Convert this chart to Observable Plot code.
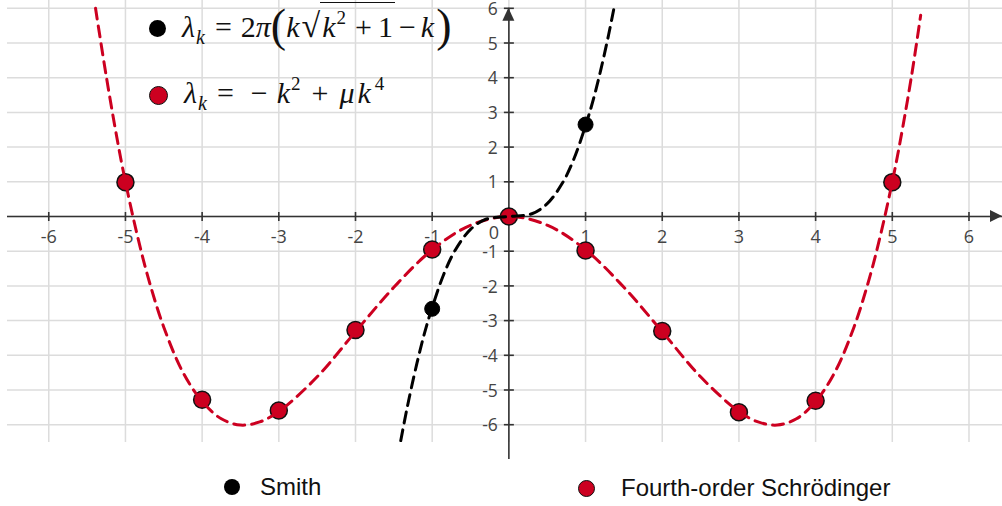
<!DOCTYPE html>
<html>
<head>
<meta charset="utf-8">
<script src="https://cdn.jsdelivr.net/npm/d3@7"></script>
<script src="https://cdn.jsdelivr.net/npm/@observablehq/plot@0.6"></script>
<style>
  body { margin: 0; background: #fff; }
  #wrap { position: relative; width: 1002px; height: 506px; overflow: hidden; background: #fff; }
  #chart { position: absolute; left: 0; top: 0; }
  .f { position: absolute; font-family: "Liberation Serif", "DejaVu Serif", serif; font-size: 30px; color: #111; white-space: nowrap; line-height: 34px; }
  .f i { font-style: italic; }
  .f sub { font-size: 20px; line-height: 0; vertical-align: -7px; margin-left: 1px; }
  .f sup { font-size: 19px; line-height: 0; vertical-align: 13px; margin-left: 1px; }
  .sp { display: inline-block; }
  .bp { font-size: 46px; line-height: 0; vertical-align: -4px; font-weight: 300; }
  .rad { font-size: 34px; line-height: 0; }
  .ol { border-top: 1.5px solid #111; padding-top: 7px; }
  .dot { position: absolute; border-radius: 50%; box-sizing: border-box; }
  .leg { position: absolute; font-family: "Liberation Sans", Arial, sans-serif; font-size: 24px; color: #111; white-space: nowrap; line-height: 24px; }
</style>
</head>
<body>
<div id="wrap">
  <div id="chart"></div>
  <div class="dot" style="left:149px;top:20px;width:17px;height:17px;background:#000;"></div>
  <div class="f" style="left:182px;top:10px;"><i>λ</i><sub><i>k</i></sub><span class="sp" style="width:10px"></span>=<span class="sp" style="width:9px"></span>2<i>π</i><span class="bp">(</span><i>k</i><span class="sp" style="width:2px"></span><span class="rad">√</span><span class="ol"><span class="sp" style="width:2px"></span><i>k</i><sup>2</sup><span class="sp" style="width:9px"></span>+<span class="sp" style="width:6px"></span>1<span class="sp" style="width:2px"></span></span><span class="sp" style="width:4px"></span>−<span class="sp" style="width:5px"></span><i>k</i><span class="sp" style="width:2px"></span><span class="bp">)</span></div>
  <div class="dot" style="left:149px;top:86px;width:19px;height:19px;background:#cc0020;border:1.5px solid #111;"></div>
  <div class="f" style="left:184px;top:76px;"><i>λ</i><sub><i>k</i></sub><span class="sp" style="width:10px"></span>=<span class="sp" style="width:17px"></span>−<span class="sp" style="width:9px"></span><i>k</i><sup>2</sup><span class="sp" style="width:11px"></span>+<span class="sp" style="width:11px"></span><i style="letter-spacing:3px">μk</i><sup>4</sup></div>
  <div class="dot" style="left:224px;top:479px;width:16px;height:16px;background:#000;"></div>
  <div class="leg" style="left:260px;top:475px;">Smith</div>
  <div class="dot" style="left:578px;top:480px;width:17px;height:17px;background:#cc0020;border:1.5px solid #111;"></div>
  <div class="leg" style="left:621px;top:476px;">Fourth-order Schrödinger</div>
</div>
<script>
// ---- data ----
const gridValues = [-6, -5, -4, -3, -2, -1, 0, 1, 2, 3, 4, 5, 6];
const xTickValues = [-6, -5, -4, -3, -2, -1, 1, 2, 3, 4, 5, 6];
const yTickValues = [-6, -5, -4, -3, -2, -1, 1, 2, 3, 4, 5, 6];

const schrodingerK = [-5, -4, -3, -2, -1, 0, 1, 2, 3, 4, 5];
const schrodingerValues = [0.99, -5.28, -5.59, -3.27, -0.95, 0, -0.98, -3.30, -5.64, -5.31, 0.99];

const smithK = [-1, 0, 1];
const smithValues = [-2.66, 0, 2.65];

const schrodingerCurveK = [-5.39, -5.25, -5.1, -5.0, -4.85, -4.7, -4.5, -4.25, -4.0, -3.75, -3.5, -3.25, -3.0, -2.5, -2.0, -1.5, -1.0, -0.5, 0,
                           0.5, 1.0, 1.5, 2.0, 2.5, 3.0, 3.25, 3.5, 3.75, 4.0, 4.25, 4.5, 4.7, 4.85, 5.0, 5.1, 5.25, 5.37];
const schrodingerCurveValues = [6.0, 4.04, 2.13, 1.0, -0.5, -1.79, -3.19, -4.49, -5.33, -5.83, -6.01, -5.92, -5.62, -4.62, -3.32, -2.04, -0.96, -0.25, 0,
                                -0.25, -0.96, -2.04, -3.32, -4.62, -5.62, -5.92, -6.01, -5.83, -5.33, -4.49, -3.19, -1.79, -0.5, 1.0, 2.13, 4.04, 5.8];

const smithCurveK = [-1.41, -1.35, -1.3, -1.2, -1.1, -1.0, -0.85, -0.7, -0.5, -0.3, 0, 0.3, 0.5, 0.7, 0.85, 1.0, 1.1, 1.2, 1.3, 1.37];
const smithCurveValues = [-6.46, -5.77, -5.23, -4.24, -3.36, -2.62, -1.67, -0.97, -0.37, -0.08, 0, 0.08, 0.37, 0.97, 1.67, 2.62, 3.36, 4.24, 5.23, 6.0];

// ---- build tables ----
const schrodingerPts = schrodingerK.map((k, i) => ({k, v: schrodingerValues[i]}));
const smithPts = smithK.map((k, i) => ({k, v: smithValues[i]}));
const schrodingerCurve = schrodingerCurveK.map((k, i) => ({k, v: schrodingerCurveValues[i]}));
const smithCurve = smithCurveK.map((k, i) => ({k, v: smithCurveValues[i]}));

const RED = "#cc0020";
const AXIS = "#333";
const LABEL = "#444";
const FONT = "Open Sans, sans-serif";

const vTick = {draw(ctx, size) { const r = Math.sqrt(size / Math.PI); ctx.moveTo(0, -r); ctx.lineTo(0, r); }};
const hTick = {draw(ctx, size) { const r = Math.sqrt(size / Math.PI); ctx.moveTo(-r, 0); ctx.lineTo(r, 0); }};

const chart = Plot.plot({
  width: 1002,
  height: 442,
  marginLeft: 7,
  marginRight: 0,
  marginTop: 0,
  marginBottom: 0,
  x: {domain: [-6.538, 6.437], axis: null},
  y: {domain: [-6.513, 6.225], axis: null},
  style: {background: "white", overflow: "visible"},
  marks: [
    Plot.gridX(gridValues, {stroke: "#dcdcdc", strokeOpacity: 1, strokeWidth: 1.5}),
    Plot.gridY(gridValues, {stroke: "#dcdcdc", strokeOpacity: 1, strokeWidth: 1.5}),
    Plot.ruleY([0], {stroke: AXIS, strokeWidth: 1.6}),
    Plot.ruleX([0], {stroke: AXIS, strokeWidth: 1.6, y1: d3.min(gridValues) - 1, y2: d3.max(gridValues)}),
    Plot.dot(xTickValues, {x: d => d, y: 0, symbol: vTick, r: 4.5, stroke: AXIS, strokeWidth: 1.6, fill: "none"}),
    Plot.dot(yTickValues, {x: 0, y: d => d, symbol: hTick, r: 5, stroke: AXIS, strokeWidth: 1.6, fill: "none"}),
    Plot.text(xTickValues, {x: d => d, y: 0, text: d => String(d), dy: 21, fontSize: 18, fill: LABEL, fontFamily: FONT}),
    Plot.text(yTickValues, {x: 0, y: d => d, text: d => String(d), dx: -11, dy: 1, textAnchor: "end", fontSize: 17.5, fill: LABEL, fontFamily: FONT}),
    Plot.text([0], {x: 0, y: 0, text: d => String(d), dx: -15, dy: 17, fontSize: 18, fill: LABEL, fontFamily: FONT}),
    Plot.dot(smithPts, {x: "k", y: "v", r: 7.5, fill: "#000", stroke: "#000", strokeWidth: 1}),
    Plot.dot(schrodingerPts, {x: "k", y: "v", r: 8.5, fill: RED, stroke: "#111", strokeWidth: 1.5}),
    Plot.line(schrodingerCurve, {x: "k", y: "v", curve: "catmull-rom", stroke: RED, strokeWidth: 3, strokeDasharray: "11,7", clip: true}),
    Plot.line(smithCurve, {x: "k", y: "v", curve: "catmull-rom", stroke: "#000", strokeWidth: 3, strokeDasharray: "11,7", clip: true})
  ]
});

// axis arrowheads positioned through the plot's own scales
const sx = chart.scale("x"), sy = chart.scale("y");
const x0 = sx.apply(0), y0 = sy.apply(0);
const yTip = sy.apply(d3.max(gridValues));
const xTip = sx.range[1];
const svg = d3.select(chart);
svg.append("path")
  .attr("d", `M${x0},${yTip}L${x0 - 6},${yTip + 13}L${x0 + 6},${yTip + 13}Z`)
  .attr("fill", AXIS);
svg.append("path")
  .attr("d", `M${xTip},${y0}L${xTip - 12},${y0 - 6}L${xTip - 12},${y0 + 6}Z`)
  .attr("fill", AXIS);

document.getElementById("chart").append(chart);
</script>
</body>
</html>
